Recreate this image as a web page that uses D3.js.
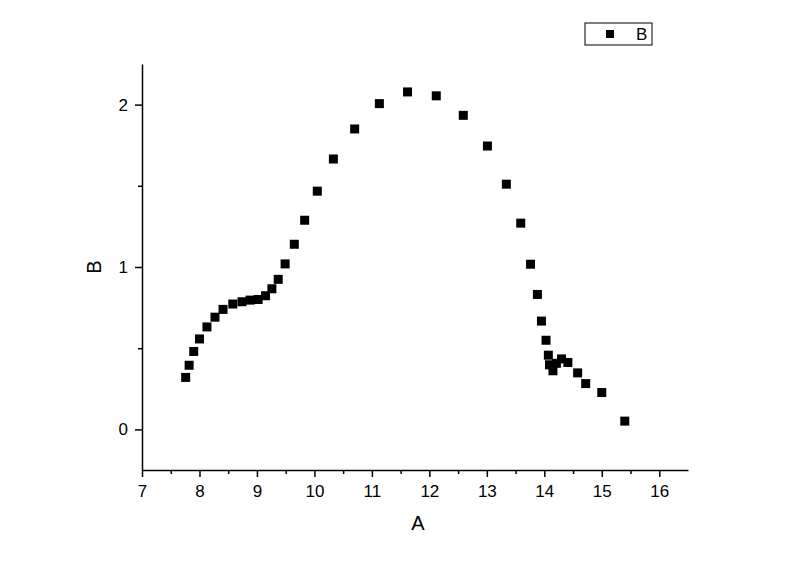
<!DOCTYPE html>
<html lang="en">
<head>
    <meta charset="UTF-8">
    <title>B vs A</title>
    <script src="https://d3js.org/d3.v7.min.js"></script>
    <style>
        body {
            margin: 0;
            padding: 0;
            background-color: #fff;
        }
        svg text {
            font-family: "Liberation Sans", Arial, sans-serif;
            fill: #000;
        }
        .tick text {
            font-size: 17px;
        }
        .title {
            font-size: 20px;
        }
    </style>
</head>
<body>
    <div id="chart"></div>

    <script>
        // Data
        const aValues = [7.76, 7.82, 7.90, 8.00, 8.13, 8.27, 8.41, 8.58, 8.74, 8.88,
                         9.02, 9.15, 9.26, 9.37, 9.49, 9.65, 9.83, 10.05, 10.33, 10.70,
                         11.13, 11.62, 12.12, 12.59, 13.01, 13.34, 13.59, 13.76, 13.88, 13.95,
                         14.03, 14.07, 14.09, 14.15, 14.21, 14.30, 14.41, 14.58, 14.72, 15.00,
                         15.40];
        const bValues = [0.32, 0.395, 0.48, 0.557, 0.631, 0.691, 0.739, 0.772, 0.786, 0.796,
                         0.800, 0.823, 0.866, 0.924, 1.019, 1.140, 1.288, 1.467, 1.665, 1.850,
                         2.006, 2.078, 2.054, 1.934, 1.745, 1.510, 1.270, 1.017, 0.831, 0.667,
                         0.549, 0.457, 0.398, 0.361, 0.407, 0.434, 0.412, 0.348, 0.282, 0.227,
                         0.051];
        const xTicks = [7, 8, 9, 10, 11, 12, 13, 14, 15, 16];
        const yTicks = [0, 1, 2];
        const seriesName = "B";

        const points = aValues.map((a, i) => ({ a, b: bValues[i] }));

        const width = 800, height = 565;
        const margin = { top: 64, right: 112, bottom: 95, left: 142 };
        const innerW = width - margin.left - margin.right,
              innerH = height - margin.top - margin.bottom;

        const svg = d3.select("#chart").append("svg")
            .attr("width", width)
            .attr("height", height);

        const g = svg.append("g")
            .attr("transform", `translate(${margin.left},${margin.top})`);

        const x = d3.scaleLinear().domain([7, 16.5]).range([0, innerW]);
        const y = d3.scaleLinear().domain([-0.25, 2.25]).range([innerH, 0]);

        // minor ticks first, then major ticks with labels
        const xMinor = d3.range(7.5, 16.5, 1);
        const yMinor = [0.5, 1.5];

        g.append("g")
            .attr("transform", `translate(0,${innerH})`)
            .call(d3.axisBottom(x).tickValues(xMinor).tickSize(4).tickFormat(""))
            .call(a => a.select(".domain").remove())
            .call(a => a.selectAll("line").attr("stroke-width", 1.5));

        g.append("g")
            .call(d3.axisLeft(y).tickValues(yMinor).tickSize(4).tickFormat(""))
            .call(a => a.select(".domain").remove())
            .call(a => a.selectAll("line").attr("stroke-width", 1.5));

        const xAxis = g.append("g")
            .attr("transform", `translate(0,${innerH})`)
            .call(d3.axisBottom(x).tickValues(xTicks).tickSize(7).tickPadding(8).tickSizeOuter(0).tickFormat(d3.format("d")));
        xAxis.select(".domain").attr("stroke-width", 1.5);
        xAxis.selectAll("line").attr("stroke-width", 1.5);

        const yAxis = g.append("g")
            .call(d3.axisLeft(y).tickValues(yTicks).tickSize(7).tickPadding(7).tickSizeOuter(0).tickFormat(d3.format("d")));
        yAxis.select(".domain").attr("stroke-width", 1.5);
        yAxis.selectAll("line").attr("stroke-width", 1.5);

        // axis titles
        svg.append("text")
            .attr("class", "title")
            .attr("x", margin.left + x(11.8))
            .attr("y", 530)
            .attr("text-anchor", "middle")
            .text("A");

        svg.append("text")
            .attr("class", "title")
            .attr("transform", `translate(101,${margin.top + y(1)}) rotate(-90)`)
            .attr("text-anchor", "middle")
            .text("B");

        // square markers
        const size = 9;
        g.selectAll("rect.pt")
            .data(points)
            .enter().append("rect")
            .attr("class", "pt")
            .attr("x", d => x(d.a) - size / 2)
            .attr("y", d => y(d.b) - size / 2)
            .attr("width", size)
            .attr("height", size)
            .attr("fill", "#000");

        // legend
        const legend = svg.append("g").attr("transform", "translate(585,23)");
        legend.append("rect")
            .attr("width", 67)
            .attr("height", 22)
            .attr("fill", "#fff")
            .attr("stroke", "#000")
            .attr("stroke-width", 1);
        legend.append("rect")
            .attr("x", 21)
            .attr("y", 7)
            .attr("width", 8)
            .attr("height", 8)
            .attr("fill", "#000");
        legend.append("text")
            .attr("x", 51)
            .attr("y", 17)
            .style("font-size", "17px")
            .text(seriesName);
    </script>
</body>
</html>
